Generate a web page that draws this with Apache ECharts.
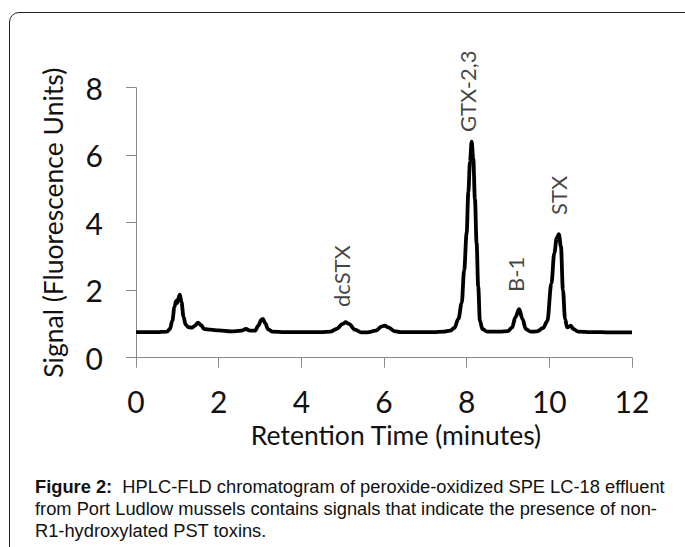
<!DOCTYPE html>
<html>
<head>
<meta charset="utf-8">
<script src="https://cdn.jsdelivr.net/npm/echarts@6/dist/echarts.min.js"></script>
<style>
  html, body { margin:0; padding:0; background:#fff; }
  body { width:685px; height:547px; position:relative; overflow:hidden; }
  #frame { position:absolute; left:9px; top:12px; width:690px; height:600px; border:1.5px solid #222; border-radius:10px; box-sizing:border-box; }
  #chart { position:absolute; left:0; top:0; width:685px; height:547px; }
  .cap { position:absolute; left:35px; white-space:nowrap; font-family:"Liberation Sans", Arial, sans-serif; font-size:18.3px; line-height:22px; color:#111; }
</style>
</head>
<body>
<div id="frame"></div>
<div id="chart"></div>
<div class="cap" style="top:476px"><b>Figure 2:</b>&nbsp; HPLC-FLD chromatogram of peroxide-oxidized SPE LC-18 effluent</div>
<div class="cap" style="top:498px">from Port Ludlow mussels contains signals that indicate the presence of non-</div>
<div class="cap" style="top:520px">R1-hydroxylated PST toxins.</div>
<script>
// Retention time (minutes)
var times = [0, 0.5, 0.75, 0.82, 0.88, 0.93, 0.97, 1.0, 1.03, 1.06, 1.1, 1.15, 1.2, 1.27, 1.35, 1.43, 1.5, 1.57, 1.65, 1.8, 2.0, 2.3, 2.55, 2.66, 2.76, 2.88, 2.96, 3.03, 3.07, 3.12, 3.2, 3.3, 3.6, 4.0, 4.5, 4.7, 4.85, 5.0, 5.07, 5.15, 5.3, 5.45, 5.6, 5.8, 5.95, 6.02, 6.1, 6.25, 6.4, 6.8, 7.2, 7.45, 7.6, 7.7, 7.8, 7.88, 7.94, 8.0, 8.04, 8.08, 8.12, 8.16, 8.2, 8.24, 8.28, 8.32, 8.38, 8.5, 8.8, 9.0, 9.1, 9.18, 9.27, 9.35, 9.43, 9.55, 9.7, 9.85, 9.95, 10.05, 10.12, 10.18, 10.23, 10.28, 10.33, 10.38, 10.43, 10.48, 10.52, 10.58, 10.7, 11.0, 11.5, 12.0];
// Signal (fluorescence units)
var signal = [0.76, 0.76, 0.77, 0.85, 1.1, 1.5, 1.68, 1.62, 1.78, 1.87, 1.65, 1.22, 0.98, 0.9, 0.89, 0.95, 1.04, 0.97, 0.85, 0.83, 0.81, 0.78, 0.8, 0.85, 0.8, 0.8, 0.95, 1.12, 1.15, 1.03, 0.84, 0.77, 0.76, 0.76, 0.76, 0.77, 0.85, 1.0, 1.05, 1.0, 0.83, 0.75, 0.75, 0.8, 0.93, 0.95, 0.9, 0.79, 0.76, 0.76, 0.76, 0.77, 0.8, 0.88, 1.15, 1.62, 2.6, 3.7, 4.9, 5.8, 6.4, 5.9, 4.7, 3.4, 2.1, 1.1, 0.85, 0.77, 0.77, 0.79, 0.9, 1.2, 1.44, 1.15, 0.85, 0.77, 0.78, 0.88, 1.08, 2.2, 3.1, 3.55, 3.66, 3.3, 2.0, 1.15, 0.9, 0.92, 0.95, 0.85, 0.77, 0.76, 0.75, 0.75];
// Peak annotations: name, retention time, signal level at the label's start
var peakNames = ["dcSTX", "GTX-2,3", "B-1", "STX"];
var peakTimes = [4.96, 8.01, 9.17, 10.23];
var peakLabelLevels = [1.5, 6.69, 1.95, 4.23];
var xTicks = [0, 2, 4, 6, 8, 10, 12];
var yTicks = [0, 2, 4, 6, 8];

var lineData = times.map(function (t, i) { return [t, signal[i]]; });
var labelData = peakNames.map(function (n, i) { return [peakTimes[i], peakLabelLevels[i], n]; });

var chart = echarts.init(document.getElementById('chart'), null, { renderer: 'svg' });
var axisFont = 'Lato, "Open Sans", sans-serif';
chart.setOption({
  animation: false,
  grid: { left: 136, top: 87.7, width: 496, height: 270 },
  xAxis: {
    type: 'value', min: xTicks[0], max: xTicks[xTicks.length - 1], interval: 2,
    name: 'Retention Time (minutes)', nameLocation: 'middle', nameGap: 64,
    nameTextStyle: { fontFamily: axisFont, fontSize: 26.5, color: '#111', padding: [0, 0, 0, 24] },
    axisLine: { show: true, lineStyle: { color: '#8a8a8a', width: 1 } },
    axisTick: { show: true, inside: false, length: 10, lineStyle: { color: '#8a8a8a' } },
    axisLabel: { fontFamily: axisFont, fontSize: 30, color: '#111', margin: 28 },
    splitLine: { show: false }
  },
  yAxis: {
    type: 'value', min: yTicks[0], max: yTicks[yTicks.length - 1], interval: 2,
    name: 'Signal (Fluorescence Units)', nameLocation: 'middle', nameGap: 70, nameRotate: 90,
    nameTextStyle: { fontFamily: axisFont, fontSize: 26.5, color: '#111' },
    axisLine: { show: true, lineStyle: { color: '#8a8a8a', width: 1 } },
    axisTick: { show: true, inside: false, length: 10, lineStyle: { color: '#8a8a8a' } },
    axisLabel: { fontFamily: axisFont, fontSize: 30, color: '#111', margin: 33 },
    splitLine: { show: false }
  },
  series: [
    {
      type: 'line', data: lineData, showSymbol: false, smooth: 0.35, smoothMonotone: 'x',
      lineStyle: { color: '#000', width: 3.8 }, z: 3
    },
    {
      type: 'scatter', data: labelData, symbolSize: 0, silent: true,
      label: {
        show: true, position: 'inside', rotate: 90, align: 'left', verticalAlign: 'middle',
        formatter: function (p) { return p.data[2]; },
        fontFamily: axisFont, fontSize: 22, color: '#111'
      }
    }
  ]
});
</script>
</body>
</html>
